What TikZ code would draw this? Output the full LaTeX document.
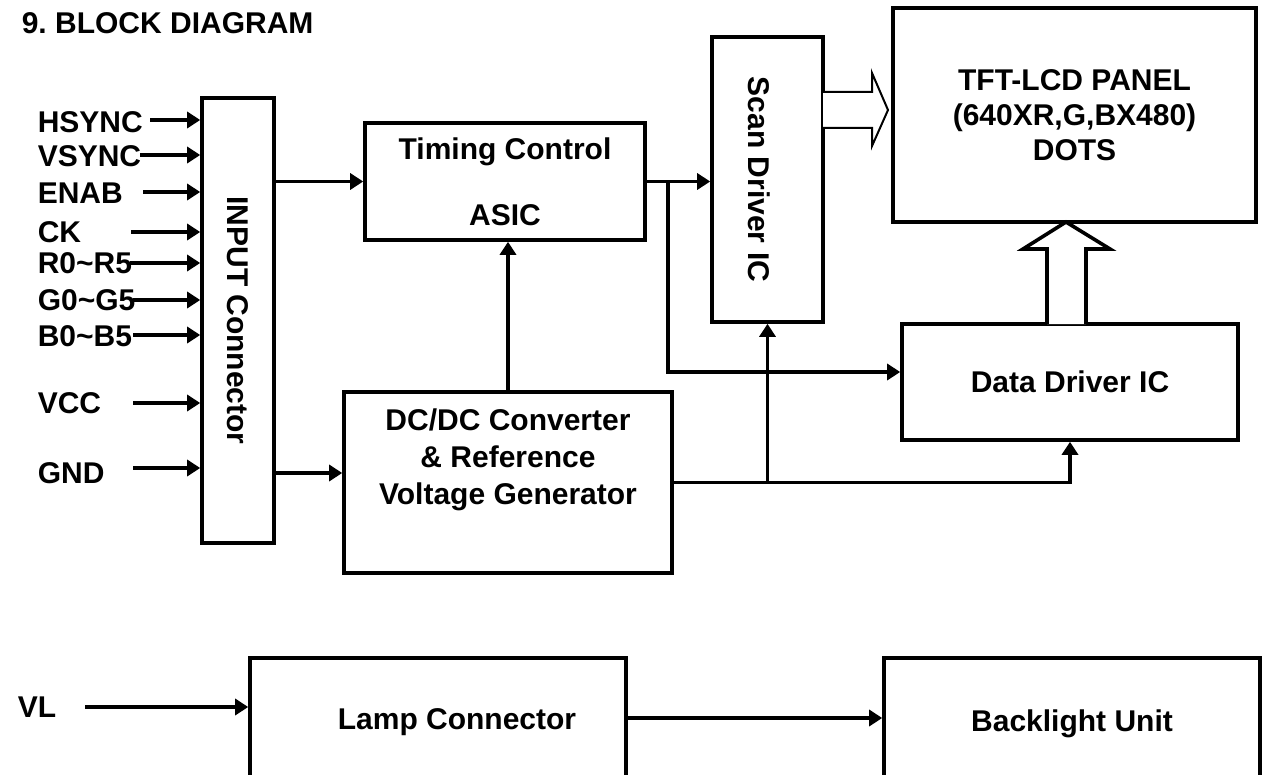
\documentclass[tikz,border=0pt]{standalone}
\usepackage{fontspec}
\setmainfont{Liberation Sans}
\usepackage{graphicx}
\usetikzlibrary{arrows.meta}

\begin{document}
\begin{tikzpicture}[x=0.5pt, y=-0.5pt, line width=1.8pt,
    font=\bfseries\fontsize{15}{17.5}\selectfont,
    blk/.style={draw, inner sep=0pt, align=center},
    sig/.style={anchor=west, inner sep=0pt},
    arr/.style={-{Triangle[length=6.5pt,width=8pt]}}]
  % 1 unit = 1 px of the 1267x775 sheet, y grows downwards
  \useasboundingbox (0,0) rectangle (1267,775);
  \node[sig] (title) at (20,23) {9.\ BLOCK DIAGRAM};

  \node[blk, minimum width=36pt, minimum height=222.5pt] (inp) at (238,320.5) {\rotatebox{-90}{INPUT Connector}};
  \node[blk, minimum width=140pt, minimum height=58.5pt] (tim) at (505,181.5) {Timing Control\\[15.5pt]ASIC};
  \node[blk, minimum width=55.5pt, minimum height=142.5pt] (scan) at (767.5,179.5) {\rotatebox{-90}{Scan Driver IC}\hspace{8pt}};
  \node[blk, minimum width=181.5pt, minimum height=107pt] (tft) at (1074.5,115) {TFT-LCD PANEL\\(640XR,G,BX480)\\DOTS};
  \node[blk, minimum width=168pt, minimum height=58pt] (dat) at (1070,382) {Data Driver IC};
  \node[blk, minimum width=164pt, minimum height=90.5pt] (dcd) at (508,482.5) {};
  \node[align=center] (dcdtxt) at (508,459.5) {DC/DC Converter\\[1pt]\& Reference\\[1pt]Voltage Generator};

  \node[blk, minimum width=188pt, minimum height=66pt] (lamp) at (438,724) {};
  \node (lamptxt) at (457,722) {Lamp Connector};
  \node[blk, minimum width=188pt, minimum height=66pt] (back) at (1072,724) {Backlight Unit};

  % input signals
  \foreach \txt/\ty/\ay/\x [count=\i] in {HSYNC/122/120/150, VSYNC/156/155/140, ENAB/193/192/143,
      CK/232/232/131, R0\textasciitilde R5/263/263/130, G0\textasciitilde G5/300/300/133,
      B0\textasciitilde B5/336/335/133, VCC/403/403/133, GND/473/468/133}
  {
    \node[sig] (sig\i) at (36,\ty) {\txt};
    \coordinate (s\i) at (\x,\ay);
    \draw[arr] (s\i) -- (s\i -| inp.west);
  }

  \draw[arr] (inp.east |- tim.west) -- (tim.west);
  \coordinate (gin) at ([yshift=4.75pt]dcd.west);
  \draw[arr] (inp.east |- gin) -- (gin);
  \draw[arr] (dcd.north) -- (dcd.north |- tim.south);
  \draw[arr] (tim.east) -- (tim.east -| scan.west);
  \coordinate (tj) at (668,181.5);
  \coordinate (din) at ([yshift=5pt]dat.west);
  \draw[arr] (tj) |- (din);
  \draw[arr] (dcd.east) -| (dat.south);
  \draw[arr] (scan.south |- dcd.east) -- (scan.south);

  % hollow bus arrows
  \draw[line width=1pt, fill=white] (823,92) -- (872,92) -- (872,73) -- (888,110) -- (872,146) -- (872,128) -- (823,128);
  \draw[line width=1.8pt, fill=white] (1047,324) -- (1047,249) -- (1023,249) -- (1066,222) -- (1110,249) -- (1086,249) -- (1086,324);

  % lamp
  \node[sig] (vl) at (16,707) {VL};
  \coordinate (vls) at (85,707);
  \draw[arr] (vls) -- (vls -| lamp.west);
  \draw[arr] (lamp.east |- 0,718) -- (back.west |- 0,718);
\end{tikzpicture}
\end{document}
